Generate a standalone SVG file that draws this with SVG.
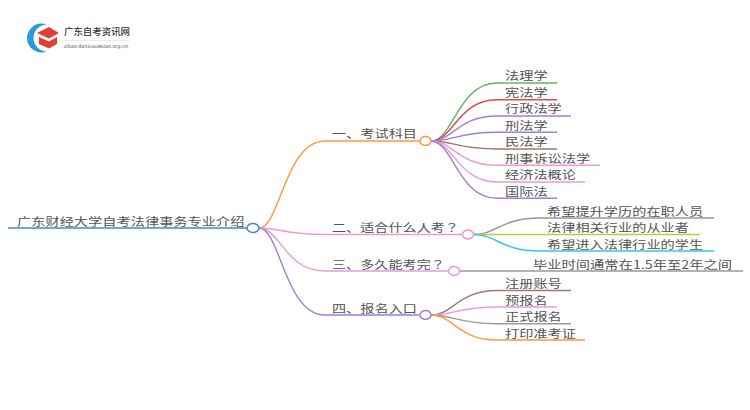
<svg xmlns="http://www.w3.org/2000/svg" width="750" height="410" viewBox="0 0 750 410">
<style>
text{font-family:"Noto Sans CJK SC","Liberation Sans",sans-serif;font-size:11.300px;fill:#555}
.q{font-family:"Noto Sans CJK JP","Liberation Sans",sans-serif}
.c{fill:none;stroke-width:1.4}
.n{fill:#fff;stroke-width:1.5}
.g{stroke:#5cb85c}.r{stroke:#e04848}.p{stroke:#a47fd0}.b{stroke:#a1786c}.k{stroke:#ea9ad8}.y{stroke:#999}.l{stroke:#c3c83a}.t{stroke:#35c9de}.o{stroke:#ff9838}.u{stroke:#3d8ccb}
</style>
<rect width="750" height="410" fill="#fff"/>
<g id="logo">
<path d="M47 24.500A14.550 14.550 0 1 0 47 51.500A13.500 13.500 0 0 1 47 24.500Z" fill="#2a9bd8"/>
<path d="M37 33L49 27L59 33L49 38.500Z" fill="#e23d32"/>
<path d="M39 37L49 41.500L57 37V44L49 48.500L39 44Z" fill="#e23d32"/>
<text x="64" y="35" textLength="66" lengthAdjust="spacingAndGlyphs" style="font-size:9.500px;font-weight:500;fill:#333">广东自考资讯网</text>
<path d="M63 40.500H130" stroke="#ddd" stroke-width=".6"/>
<text x="64" y="47.500" textLength="64" lengthAdjust="spacingAndGlyphs" style="font-family:'DejaVu Sans',sans-serif;font-size:5.200px">zikao.daniuxuexiao.org.cn</text>
</g>
<g id="connectors">
<path class="c u" d="M8 228H247"/>
<path class="c o" d="M259 228C280 228 285 141 325 141H420"/>
<path class="c k" d="M259 228C280 228 285 234.500 325 234.500H462"/>
<path class="c k" d="M259 228C280 228 285 271 325 271H448"/>
<path class="c p" d="M259 228C280 228 285 315 325 315H419"/>
<path class="c g" d="M431 141C453 141 458 83 497 83H557"/>
<path class="c r" d="M431 141C453 141 458 99.700 497 99.700H557"/>
<path class="c p" d="M431 141C453 141 458 116 497 116H571"/>
<path class="c p" d="M431 141C453 141 458 132.300 497 132.300H557"/>
<path class="c b" d="M431 141C453 141 458 149 497 149H557"/>
<path class="c k" d="M431 141C453 141 458 165.300 497 165.300H600"/>
<path class="c k" d="M431 141C453 141 458 182 497 182H585"/>
<path class="c p" d="M431 141C453 141 458 198.300 497 198.300H557"/>
<path class="c y" d="M474 234.500C496 234.500 501 218 540 218H714"/>
<path class="c l" d="M474 234.500H700"/>
<path class="c t" d="M474 234.500C496 234.500 501 251 540 251H714"/>
<path class="c y" d="M460 271H743"/>
<path class="c b" d="M431 315C453 315 458 290.500 497 290.500H571"/>
<path class="c k" d="M431 315C453 315 458 307 497 307H557"/>
<path class="c y" d="M431 315C453 315 458 323.700 497 323.700H571"/>
<path class="c o" d="M431 315C453 315 458 340 497 340H585"/>
</g>
<g id="root"><ellipse class="n u" cx="253" cy="228" rx="6" ry="4.500"/><text x="17" y="226" textLength="227.500" lengthAdjust="spacingAndGlyphs">广东财经大学自考法律事务专业介绍</text></g>
<g id="n1"><ellipse class="n o" cx="425.500" cy="141" rx="5.500" ry="4.500"/><text x="332" y="137.500" textLength="85" lengthAdjust="spacingAndGlyphs">一、考试科目</text></g>
<g id="n2"><ellipse class="n k" cx="468" cy="234.500" rx="5.500" ry="4.500"/><text class="q" x="332" y="231.500" textLength="127" lengthAdjust="spacingAndGlyphs">二、适合什么人考？</text></g>
<g id="n3"><ellipse class="n k" cx="454" cy="271" rx="5.500" ry="4.500"/><text class="q" x="332" y="268.500" textLength="113" lengthAdjust="spacingAndGlyphs">三、多久能考完？</text></g>
<g id="n4"><ellipse class="n p" cx="425.500" cy="315" rx="5.500" ry="4.500"/><text x="332" y="312.500" textLength="85" lengthAdjust="spacingAndGlyphs">四、报名入口</text></g>
<g id="l1"><text x="505" y="80" textLength="42.600" lengthAdjust="spacingAndGlyphs">法理学</text></g>
<g id="l2"><text x="505" y="96.500" textLength="42.600" lengthAdjust="spacingAndGlyphs">宪法学</text></g>
<g id="l3"><text x="505" y="113" textLength="56.800" lengthAdjust="spacingAndGlyphs">行政法学</text></g>
<g id="l4"><text x="505" y="129.500" textLength="42.600" lengthAdjust="spacingAndGlyphs">刑法学</text></g>
<g id="l5"><text x="505" y="146" textLength="42.600" lengthAdjust="spacingAndGlyphs">民法学</text></g>
<g id="l6"><text x="505" y="162.500" textLength="85.200" lengthAdjust="spacingAndGlyphs">刑事诉讼法学</text></g>
<g id="l7"><text x="505" y="179" textLength="71" lengthAdjust="spacingAndGlyphs">经济法概论</text></g>
<g id="l8"><text x="505" y="195.500" textLength="42.600" lengthAdjust="spacingAndGlyphs">国际法</text></g>
<g id="l9"><text x="547" y="215.500" textLength="156.200" lengthAdjust="spacingAndGlyphs">希望提升学历的在职人员</text></g>
<g id="l10"><text x="547" y="232" textLength="142" lengthAdjust="spacingAndGlyphs">法律相关行业的从业者</text></g>
<g id="l11"><text x="547" y="248.500" textLength="156.200" lengthAdjust="spacingAndGlyphs">希望进入法律行业的学生</text></g>
<g id="l12"><text x="533" y="268.500" textLength="199" lengthAdjust="spacingAndGlyphs">毕业时间通常在1.5年至2年之间</text></g>
<g id="l13"><text x="505" y="288" textLength="56.800" lengthAdjust="spacingAndGlyphs">注册账号</text></g>
<g id="l14"><text x="505" y="304.500" textLength="42.600" lengthAdjust="spacingAndGlyphs">预报名</text></g>
<g id="l15"><text x="505" y="321" textLength="56.800" lengthAdjust="spacingAndGlyphs">正式报名</text></g>
<g id="l16"><text x="505" y="337.500" textLength="71" lengthAdjust="spacingAndGlyphs">打印准考证</text></g>
</svg>
